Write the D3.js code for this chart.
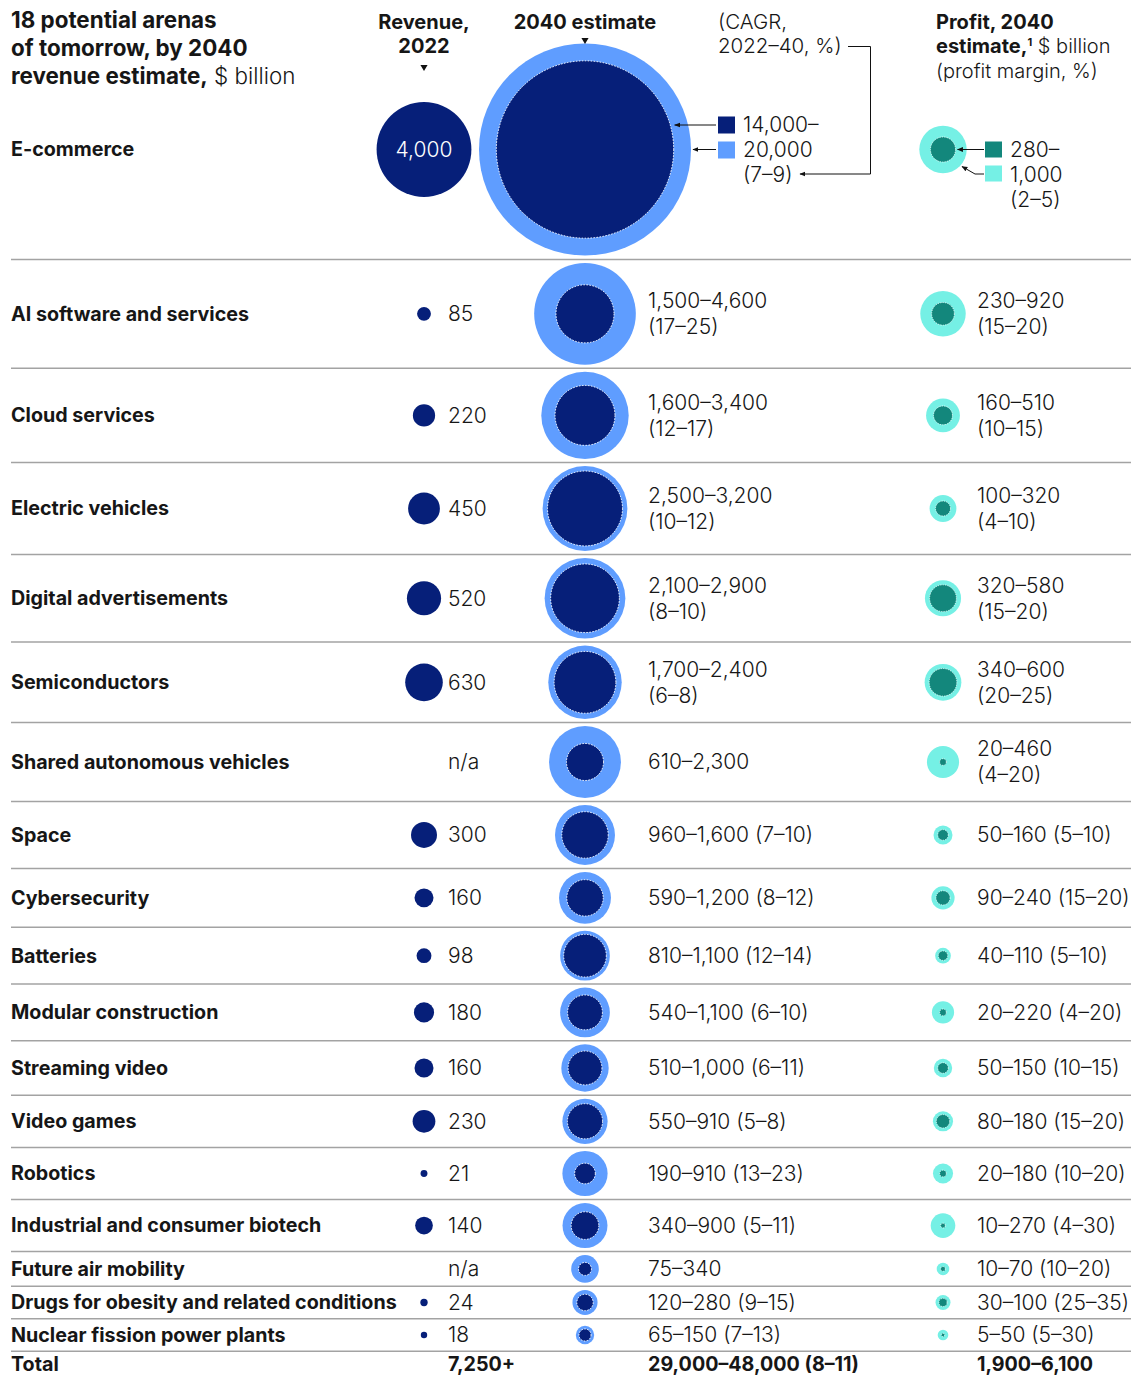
<!DOCTYPE html>
<html>
<head>
<meta charset="utf-8">
<title>Arenas of tomorrow</title>
<script src="https://d3js.org/d3.v7.min.js"></script>
<style>
  body { margin: 0; background: #fff; }
  text { font-family: Inter, "Liberation Sans", sans-serif; fill: #161616; }
  .b { font-weight: 700; }
  .l { font-weight: 300; }
</style>
</head>
<body>
<script>
var width = 1134, height = 1376

// data, $ billion
var categories = ["E-commerce", "AI software and services", "Cloud services", "Electric vehicles",
  "Digital advertisements", "Semiconductors", "Shared autonomous vehicles", "Space", "Cybersecurity",
  "Batteries", "Modular construction", "Streaming video", "Video games", "Robotics",
  "Industrial and consumer biotech", "Future air mobility", "Drugs for obesity and related conditions",
  "Nuclear fission power plants"]
var revenue2022 = [4000, 85, 220, 450, 520, 630, null, 300, 160, 98, 180, 160, 230, 21, 140, null, 24, 18]
var revenue2040Low = [14000, 1500, 1600, 2500, 2100, 1700, 610, 960, 590, 810, 540, 510, 550, 190, 340, 75, 120, 65]
var revenue2040High = [20000, 4600, 3400, 3200, 2900, 2400, 2300, 1600, 1200, 1100, 1100, 1000, 910, 910, 900, 340, 280, 150]
var cagr = ["7–9", "17–25", "12–17", "10–12", "8–10", "6–8", null, "7–10", "8–12", "12–14", "6–10", "6–11", "5–8", "13–23", "5–11", null, "9–15", "7–13"]
var profitLow = [280, 230, 160, 100, 320, 340, 20, 50, 90, 40, 20, 50, 80, 20, 10, 10, 30, 5]
var profitHigh = [1000, 920, 510, 320, 580, 600, 460, 160, 240, 110, 220, 150, 180, 180, 270, 70, 100, 50]
var margin = ["2–5", "15–20", "10–15", "4–10", "15–20", "20–25", "4–20", "5–10", "15–20", "5–10", "4–20", "10–15", "15–20", "10–20", "4–30", "10–20", "25–35", "5–30"]
var totals = ["7,250+", "29,000–48,000 (8–11)", "1,900–6,100"]

var navy = "#061f79", blue = "#5f9dff", teal = "#13877c", cyan = "#75f0e5"
var fmt = d3.format(",")
var numSize = "21px", labelSize = "19.7px", headSize = "20px"

var svg = d3.select("body").append("svg")
  .attr("width", width)
  .attr("height", height)

var defs = svg.append("defs")
defs.append("marker").attr("id", "arr")
  .attr("viewBox", "0 0 10 10").attr("refX", 9).attr("refY", 5)
  .attr("markerWidth", 6).attr("markerHeight", 6).attr("orient", "auto")
  .append("path").attr("d", "M0,1L10,5L0,9Z").attr("fill", "#111")

// circle area ~ value, same scale for all three columns
var r = d3.scaleSqrt().domain([0, 20000]).range([0, 106])

var xLabel = 11, xRev = 424, xRevText = 448, xEst = 585, xEstText = 648, xProf = 943, xProfText = 977

// row layout: height follows the biggest circle in the row
var rows = []
var firstBottom = 259.5
rows.push({i: 0, cy: firstBottom - r(revenue2040High[0]) - 4, h: 999, bottom: firstBottom})
var y = firstBottom
for (var i = 1; i < categories.length; i++) {
  var h = Math.max(2 * r(revenue2040High[i]) + 7, 32.5)
  rows.push({i: i, cy: y + h / 2, h: h, bottom: y + h})
  y += h
}

// separators
svg.selectAll("line.sep").data(rows).enter().append("line")
  .attr("class", "sep")
  .attr("x1", 11).attr("x2", 1131)
  .attr("y1", d => d.bottom).attr("y2", d => d.bottom)
  .attr("stroke", "#a3a3a3").attr("stroke-width", 1.5)

var g = svg.selectAll("g.row").data(rows).enter().append("g").attr("class", "row")

// labels
g.append("text").attr("class", "b")
  .attr("x", xLabel).attr("y", d => d.cy).attr("dy", "0.35em")
  .style("font-size", labelSize)
  .text(d => categories[d.i])

// revenue 2022
g.filter(d => revenue2022[d.i] != null).append("circle")
  .attr("cx", xRev).attr("cy", d => d.cy)
  .attr("r", d => r(revenue2022[d.i]))
  .attr("fill", navy)
g.filter(d => d.i > 0).append("text").attr("class", "l")
  .attr("x", xRevText).attr("y", d => d.cy).attr("dy", "0.35em")
  .style("font-size", numSize)
  .text(d => revenue2022[d.i] == null ? "n/a" : fmt(revenue2022[d.i]))
g.filter(d => d.i == 0).append("text").attr("class", "l")
  .attr("x", xRev).attr("y", d => d.cy).attr("dy", "0.35em")
  .attr("text-anchor", "middle").style("font-size", numSize).style("fill", "#fff")
  .text(d => fmt(revenue2022[d.i]))

// 2040 revenue estimate
g.append("circle")
  .attr("cx", xEst).attr("cy", d => d.cy)
  .attr("r", d => r(revenue2040High[d.i]))
  .attr("fill", blue)
g.append("circle")
  .attr("cx", xEst).attr("cy", d => d.cy)
  .attr("r", d => r(revenue2040Low[d.i]))
  .attr("fill", navy).attr("stroke", "#fff").attr("stroke-width", 1)
  .attr("stroke-dasharray", "1.5,1.5")

// profit 2040
g.append("circle")
  .attr("cx", xProf).attr("cy", d => d.cy)
  .attr("r", d => r(profitHigh[d.i]))
  .attr("fill", cyan)
g.append("circle")
  .attr("cx", xProf).attr("cy", d => d.cy)
  .attr("r", d => r(profitLow[d.i]))
  .attr("fill", teal).attr("stroke", "#fff").attr("stroke-width", 0.8)
  .attr("stroke-dasharray", "1.2,1.2")

// value texts, two lines in tall rows
function rangeText(lo, hi) { return fmt(lo) + "–" + fmt(hi) }
function addValue(sel, x, lo, hi, pct) {
  sel.each(function(d) {
    var t = d3.select(this)
    var main = rangeText(lo[d.i], hi[d.i])
    var p = pct[d.i]
    if (d.h > 75) {
      t.append("text").attr("class", "l").attr("x", x).attr("y", d.cy + (p ? -13 : 0)).attr("dy", "0.35em")
        .style("font-size", numSize).text(main)
      if (p) t.append("text").attr("class", "l").attr("x", x).attr("y", d.cy + 13).attr("dy", "0.35em")
        .style("font-size", numSize).text("(" + p + ")")
    } else {
      t.append("text").attr("class", "l").attr("x", x).attr("y", d.cy).attr("dy", "0.35em")
        .style("font-size", numSize).text(p ? main + " (" + p + ")" : main)
    }
  })
}
addValue(g.filter(d => d.i > 0), xEstText, revenue2040Low, revenue2040High, cagr)
addValue(g.filter(d => d.i > 0), xProfText, profitLow, profitHigh, margin)

// totals
var lastBottom = rows[rows.length - 1].bottom
var ty = lastBottom + 13
svg.append("text").attr("class", "b").attr("x", xLabel).attr("y", ty).attr("dy", "0.35em").style("font-size", labelSize).text("Total")
svg.append("text").attr("class", "b").attr("x", xRevText).attr("y", ty).attr("dy", "0.35em").style("font-size", labelSize).text(totals[0])
svg.append("text").attr("class", "b").attr("x", xEstText).attr("y", ty).attr("dy", "0.35em").style("font-size", labelSize).text(totals[1])
svg.append("text").attr("class", "b").attr("x", xProfText).attr("y", ty).attr("dy", "0.35em").style("font-size", labelSize).text(totals[2])

// headers
var title = svg.append("text").attr("x", xLabel).attr("y", 28).style("font-size", "22.4px")
title.append("tspan").attr("class", "b").text("18 potential arenas")
title.append("tspan").attr("class", "b").attr("x", xLabel).attr("dy", 28).text("of tomorrow, by 2040")
title.append("tspan").attr("class", "b").attr("x", xLabel).attr("dy", 28).text("revenue estimate,")
title.append("tspan").attr("class", "l").text(" $ billion")

svg.append("text").attr("class", "b").attr("x", xRev).attr("y", 29).attr("text-anchor", "middle").style("font-size", headSize).text("Revenue,")
svg.append("text").attr("class", "b").attr("x", xRev).attr("y", 53).attr("text-anchor", "middle").style("font-size", headSize).text("2022")
svg.append("text").attr("class", "b").attr("x", xEst).attr("y", 29).attr("text-anchor", "middle").style("font-size", headSize).text("2040 estimate")

svg.append("path").attr("d", d3.symbol(d3.symbolTriangle, 22)()).attr("transform", "translate(" + xRev + ",67) rotate(180)").attr("fill", "#111")
svg.append("path").attr("d", d3.symbol(d3.symbolTriangle, 22)()).attr("transform", "translate(" + xEst + ",40) rotate(180)").attr("fill", "#111")

svg.append("text").attr("class", "l").attr("x", 718).attr("y", 29).style("font-size", "20.5px").text("(CAGR,")
svg.append("text").attr("class", "l").attr("x", 718).attr("y", 53).style("font-size", "20.5px").text("2022–40, %)")

var pt = svg.append("text").attr("x", 936).attr("y", 29).style("font-size", headSize)
pt.append("tspan").attr("class", "b").text("Profit, 2040")
pt.append("tspan").attr("class", "b").attr("x", 936).attr("dy", 24).text("estimate,")
pt.append("tspan").attr("class", "b").attr("dy", -7).style("font-size", "11px").text("1")
pt.append("tspan").attr("class", "l").attr("dy", 7).text(" $ billion")
pt.append("tspan").attr("class", "l").attr("x", 936).attr("dy", 25).text("(profit margin, %)")

// E-commerce legend for 2040 estimate
var e = rows[0].cy
svg.append("rect").attr("x", 718).attr("y", e - 33).attr("width", 17).attr("height", 17).attr("fill", navy)
svg.append("rect").attr("x", 718).attr("y", e - 8).attr("width", 17).attr("height", 17).attr("fill", blue)
svg.append("text").attr("class", "l").attr("x", 743).attr("y", e - 25).attr("dy", "0.35em").style("font-size", numSize).text(fmt(revenue2040Low[0]) + "–")
svg.append("text").attr("class", "l").attr("x", 743).attr("y", e).attr("dy", "0.35em").style("font-size", numSize).text(fmt(revenue2040High[0]))
svg.append("text").attr("class", "l").attr("x", 743).attr("y", e + 25).attr("dy", "0.35em").style("font-size", numSize).text("(" + cagr[0] + ")")
svg.append("line").attr("x1", 716).attr("y1", e - 24.5).attr("x2", xEst + r(revenue2040Low[0]) + 1).attr("y2", e - 24.5)
  .attr("stroke", "#111").attr("stroke-width", 1).attr("marker-end", "url(#arr)")
svg.append("line").attr("x1", 716).attr("y1", e).attr("x2", xEst + r(revenue2040High[0]) + 2).attr("y2", e)
  .attr("stroke", "#111").attr("stroke-width", 1).attr("marker-end", "url(#arr)")
svg.append("path").attr("d", "M848,46.5H870.5V" + (e + 24.5) + "H800")
  .attr("fill", "none").attr("stroke", "#111").attr("stroke-width", 1).attr("marker-end", "url(#arr)")

// E-commerce legend for profit
svg.append("rect").attr("x", 985).attr("y", e - 8).attr("width", 17).attr("height", 16).attr("fill", teal)
svg.append("rect").attr("x", 985).attr("y", e + 16).attr("width", 17).attr("height", 16).attr("fill", cyan)
svg.append("text").attr("class", "l").attr("x", 1010).attr("y", e).attr("dy", "0.35em").style("font-size", numSize).text(fmt(profitLow[0]) + "–")
svg.append("text").attr("class", "l").attr("x", 1010).attr("y", e + 25).attr("dy", "0.35em").style("font-size", numSize).text(fmt(profitHigh[0]))
svg.append("text").attr("class", "l").attr("x", 1010).attr("y", e + 50).attr("dy", "0.35em").style("font-size", numSize).text("(" + margin[0] + ")")
svg.append("line").attr("x1", 984).attr("y1", e).attr("x2", xProf + r(profitLow[0]) + 2).attr("y2", e)
  .attr("stroke", "#111").attr("stroke-width", 1).attr("marker-end", "url(#arr)")
svg.append("path").attr("d", "M984," + (e + 24.5) + "H975L962," + (e + 17))
  .attr("fill", "none").attr("stroke", "#111").attr("stroke-width", 1).attr("marker-end", "url(#arr)")
</script>
</body>
</html>
